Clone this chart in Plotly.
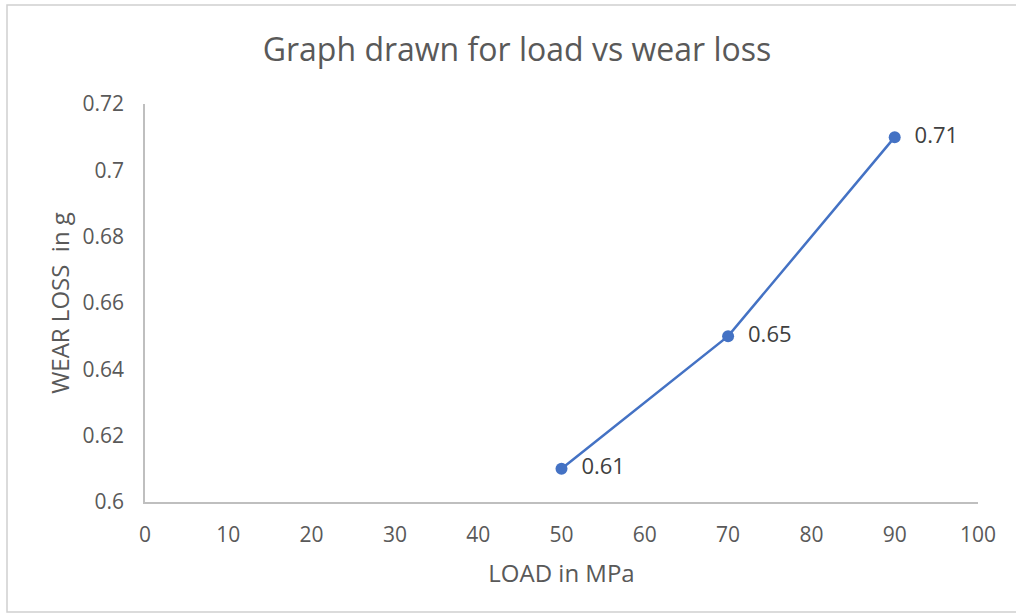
import plotly.graph_objects as go

load = [50, 70, 90]
wear = [0.61, 0.65, 0.71]
x_ticks = [0, 10, 20, 30, 40, 50, 60, 70, 80, 90, 100]
y_ticks = [0.6, 0.62, 0.64, 0.66, 0.68, 0.7, 0.72]
y_labels = ["0.6", "0.62", "0.64", "0.66", "0.68", "0.7", "0.72"]

FONT = "Open Sans"
GRAY = "#595959"

fig = go.Figure()
fig.add_trace(go.Scatter(
    x=load, y=wear, mode="lines+markers+text",
    line=dict(color="#4472C4", width=2.5),
    marker=dict(color="#4472C4", size=12),
    text=[f"  {v:.2f}" for v in wear],
    textposition="middle right",
    textfont=dict(family=FONT, size=22, color="#404040"),
    cliponaxis=False,
    showlegend=False,
))

L, R, T, B = 145, 38, 104, 114
W, H = 1016, 616
pw, ph = W - L - R, H - T - B

fig.update_layout(
    width=W, height=H,
    margin=dict(l=L, r=R, t=T, b=B),
    paper_bgcolor="white", plot_bgcolor="white",
    title=dict(text="Graph drawn for load vs wear loss", x=517 / W, xanchor="center",
               y=1 - 50 / H, yanchor="middle",
               font=dict(family=FONT, size=32, color=GRAY)),
    xaxis=dict(range=[0, 100], tickvals=x_ticks, ticktext=[str(v) for v in x_ticks],
               showgrid=False, zeroline=False, showline=True, linecolor="#bfbfbf",
               linewidth=1.5, ticks="", ticklabelstandoff=13,
               tickfont=dict(family=FONT, size=21, color=GRAY),
               title=dict(text="LOAD in MPa", standoff=18,
                          font=dict(family=FONT, size=24, color=GRAY))),
    yaxis=dict(range=[0.6, 0.72], tickvals=y_ticks, ticktext=y_labels,
               showgrid=False, zeroline=False, showline=True, linecolor="#bfbfbf",
               linewidth=1.5, ticks="", ticklabelstandoff=15,
               tickfont=dict(family=FONT, size=21, color=GRAY),
               title=dict(text="WEAR LOSS  in g", standoff=6,
                          font=dict(family=FONT, size=24, color=GRAY))),
    font=dict(family=FONT),
)

# outer chart border (left, top, bottom visible)
fig.add_shape(type="rect", xref="paper", yref="paper",
              x0=(7 - L) / pw, x1=(1030 - L) / pw,
              y0=(H - B - 612) / ph, y1=(H - B - 5) / ph,
              line=dict(color="#d0d0d0", width=1.5), fillcolor="rgba(0,0,0,0)",
              layer="below")

fig.write_html("out.html")
